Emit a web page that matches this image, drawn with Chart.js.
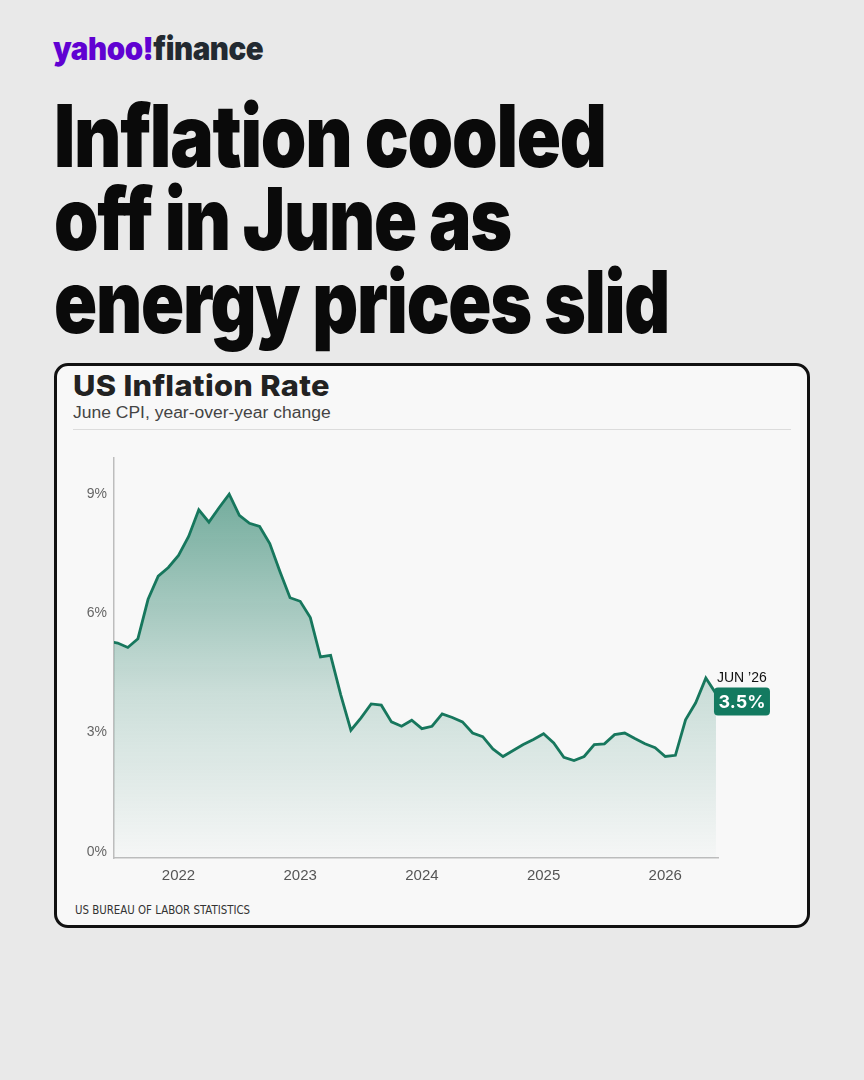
<!DOCTYPE html>
<html>
<head>
<meta charset="utf-8">
<script src="https://cdn.jsdelivr.net/npm/chart.js@4.4.1/dist/chart.umd.min.js"></script>
<style>
  html, body { margin: 0; padding: 0; }
  body { width: 864px; height: 1080px; background: #e9e9e9; position: relative; overflow: hidden; font-family: Inter, "Noto Sans", sans-serif; }
  .fit { position: absolute; white-space: nowrap; transform-origin: 0 0; }
  #logo { left: 53px; top: 29px; font-size: 32px; font-weight: 900; letter-spacing: -0.5px; }
  #logo .y { color: #6001d2; }
  #logo .f { color: #232a31; }
  .ttl { left: 54px; font-size: 87px; font-weight: 900; color: #0a0a0a; letter-spacing: -1.5px; line-height: 87px; }
  #card { position: absolute; left: 54px; top: 363px; width: 750px; height: 559px; background: #f8f8f8; border: 3px solid #111; border-radius: 14px; }
  #ctitle { left: 73px; top: 369px; font-size: 29px; font-weight: 800; color: #222; line-height: 34px; letter-spacing: 0.3px; }
  #csub { left: 73px; top: 403px; font-size: 16px; font-family: "Liberation Sans", Arial, sans-serif; color: #444; line-height: 20px; }
  #sep { position: absolute; left: 73px; top: 429px; width: 718px; height: 1px; background: #dcdcdc; }
  #src { left: 75px; top: 903px; font-size: 13px; font-family: "Liberation Sans Narrow", "DejaVu Sans Condensed", sans-serif; color: #333; line-height: 14px; }
  #c { position: absolute; left: 60px; top: 440px; }
</style>
</head>
<body>
<div id="logo" class="fit" data-w="210"><span class="y">yahoo!</span><span class="f">finance</span></div>
<div class="fit ttl" style="top:92px" data-w="552">Inflation cooled</div>
<div class="fit ttl" style="top:175px" data-w="457">off in June as</div>
<div class="fit ttl" style="top:258px" data-w="615">energy prices slid</div>
<div id="card"></div>
<div id="ctitle" class="fit" data-w="257">US Inflation Rate</div>
<div id="csub" class="fit" data-w="258">June CPI, year-over-year change</div>
<div id="sep"></div>
<div id="src" class="fit" data-w="175">US BUREAU OF LABOR STATISTICS</div>
<canvas id="c" width="740" height="460"></canvas>
<script>
// months from Jun 2021 to Jun 2026
var months = [
  "Jun 2021","Jul 2021","Aug 2021","Sep 2021","Oct 2021","Nov 2021","Dec 2021",
  "Jan 2022","Feb 2022","Mar 2022","Apr 2022","May 2022","Jun 2022","Jul 2022","Aug 2022","Sep 2022","Oct 2022","Nov 2022","Dec 2022",
  "Jan 2023","Feb 2023","Mar 2023","Apr 2023","May 2023","Jun 2023","Jul 2023","Aug 2023","Sep 2023","Oct 2023","Nov 2023","Dec 2023",
  "Jan 2024","Feb 2024","Mar 2024","Apr 2024","May 2024","Jun 2024","Jul 2024","Aug 2024","Sep 2024","Oct 2024","Nov 2024","Dec 2024",
  "Jan 2025","Feb 2025","Mar 2025","Apr 2025","May 2025","Jun 2025","Jul 2025","Aug 2025","Sep 2025","Oct 2025","Nov 2025","Dec 2025",
  "Jan 2026","Feb 2026","Mar 2026","Apr 2026","May 2026","Jun 2026"
];
var cpi = [
  5.3, 5.25, 5.14, 5.36, 6.35, 6.93, 7.15,
  7.45, 7.93, 8.6, 8.29, 8.65, 8.99, 8.46, 8.26, 8.18, 7.75, 7.05, 6.39,
  6.3, 5.89, 4.9, 4.94, 3.95, 3.06, 3.37, 3.72, 3.69, 3.27, 3.16, 3.31,
  3.1, 3.16, 3.47, 3.38, 3.27, 2.99, 2.9, 2.59, 2.4, 2.55, 2.7, 2.83,
  2.97, 2.74, 2.38, 2.3, 2.4, 2.7, 2.72, 2.95, 2.99, 2.85, 2.72, 2.62,
  2.4, 2.43, 3.32, 3.75, 4.37, 3.98
];
var yTicks = [0, 3, 6, 9];
var yearTicks = [7, 19, 31, 43, 55]; // January of each year
var lastLabel = "JUN \u201926";
var lastValueText = "3.5%";

document.querySelectorAll('.fit').forEach(function (el) {
  var w = el.offsetWidth;
  var t = +el.getAttribute('data-w');
  el.style.transform = 'scaleX(' + (t / w) + ')';
});

var green = '#17775d';

var endLabel = {
  id: 'endLabel',
  afterDatasetsDraw: function (chart) {
    var meta = chart.getDatasetMeta(0);
    var pt = meta.data[meta.data.length - 1];
    var ctx = chart.ctx;
    var x = pt.x, y = pt.y;
    ctx.save();
    ctx.fillStyle = '#111';
    ctx.font = '14px "Liberation Sans", Arial, sans-serif';
    ctx.textBaseline = 'alphabetic';
    ctx.textAlign = 'left';
    ctx.fillText(lastLabel, x + 1, y - 12);
    var bx = x - 2, by = y - 6, bw = 56, bh = 28;
    ctx.fillStyle = '#137a60';
    ctx.beginPath();
    ctx.roundRect(bx, by, bw, bh, 4);
    ctx.fill();
    ctx.fillStyle = '#fff';
    ctx.font = 'bold 18px Inter, "Liberation Sans", sans-serif';
    ctx.textAlign = 'center';
    ctx.textBaseline = 'middle';
    ctx.fillText(lastValueText, bx + bw / 2, by + bh / 2 + 1);
    ctx.restore();
  }
};

new Chart(document.getElementById('c'), {
  type: 'line',
  data: {
    datasets: [{
      data: cpi.map(function (v, i) { return { x: i, y: v }; }),
      borderColor: green,
      borderWidth: 2.8,
      pointRadius: 0,
      tension: 0,
      fill: 'start',
      clip: 0,
      backgroundColor: function (c) {
        var a = c.chart.chartArea;
        if (!a) return 'rgba(23,119,93,0.3)';
        var g = c.chart.ctx.createLinearGradient(0, a.top + 30, 0, a.bottom);
        g.addColorStop(0, 'rgba(23,119,93,0.6)');
        g.addColorStop(0.55, 'rgba(23,119,93,0.2)');
        g.addColorStop(1, 'rgba(23,119,93,0.01)');
        return g;
      }
    }]
  },
  options: {
    responsive: false,
    devicePixelRatio: 1,
    animation: false,
    layout: { padding: { top: 18, right: 82, left: 0, bottom: 0 } },
    plugins: { legend: { display: false }, tooltip: { enabled: false } },
    scales: {
      x: {
        type: 'linear',
        min: 0.64,
        max: 60.2,
        grid: { display: false, drawTicks: false },
        border: { display: true, color: '#bdbdbd', width: 1.5 },
        afterBuildTicks: function (s) { s.ticks = yearTicks.map(function (v) { return { value: v }; }); },
        afterFit: function (s) { s.height = 42; },
        ticks: {
          padding: 9,
          color: '#555',
          font: { size: 15, family: '"Liberation Sans", Arial, sans-serif' },
          maxRotation: 0,
          callback: function (v) { return months[v].slice(4); }
        }
      },
      y: {
        min: -0.15,
        max: 9.9,
        grid: { display: false, drawTicks: false },
        border: { display: true, color: '#bdbdbd', width: 1.5 },
        afterBuildTicks: function (s) { s.ticks = yTicks.map(function (v) { return { value: v }; }); },
        afterFit: function (s) { s.width = 54; },
        ticks: {
          padding: 7,
          color: '#666',
          font: { size: 14, family: '"Liberation Sans", Arial, sans-serif' },
          callback: function (v) { return v + '%'; }
        }
      }
    }
  },
  plugins: [endLabel]
});
</script>
</body>
</html>
